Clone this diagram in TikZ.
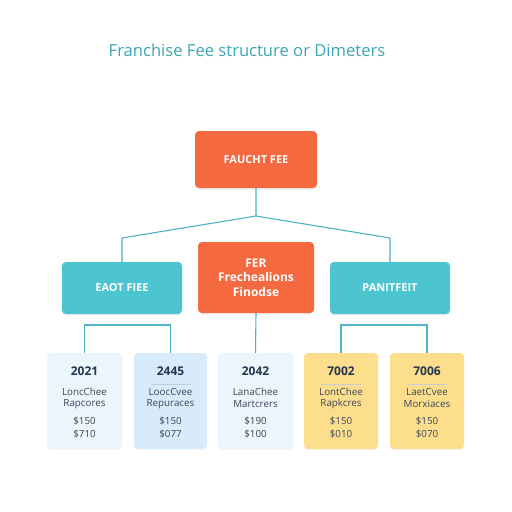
\documentclass[tikz,border=0pt]{standalone}
\usepackage{fontspec}
\setmainfont{Open Sans}
\usetikzlibrary{shadows}
\definecolor{orng}{HTML}{F4693F}
\definecolor{tealbox}{HTML}{4CC5D0}
\definecolor{conn}{HTML}{4BB3C3}
\definecolor{titlec}{HTML}{3AA7B2}
\definecolor{bA}{HTML}{EAF5FC}
\definecolor{bB}{HTML}{D8EBFB}
\definecolor{yel}{HTML}{FDDE8C}
\definecolor{navy}{HTML}{243650}
\definecolor{bodyc}{HTML}{3A4658}
\tikzset{
  bigbox/.style={rounded corners=4pt, inner sep=0pt, text=white, font=\fontsize{11}{14.5}\selectfont\bfseries, align=center,
    drop shadow={shadow xshift=0pt, shadow yshift=-1.5pt, opacity=0.12}},
  orangebox/.style={bigbox, fill=orng},
  tealbx/.style={bigbox, fill=tealbox},
  smallbox/.style={rounded corners=4pt, inner sep=0pt, minimum height=96pt,
    drop shadow={shadow xshift=0pt, shadow yshift=-1pt, opacity=0.06}},
  yeartxt/.style={font=\fontsize{12}{13}\selectfont\bfseries, text=navy},
  bodytxt/.style={font=\fontsize{9.8}{12}\selectfont, text=bodyc},
  conline/.style={draw=conn, line width=1.1pt},
  sep/.style={draw=navy!25, line width=0.5pt}
}
\begin{document}
\begin{tikzpicture}[x=1pt,y=-1pt]
\fill[white] (0,0) rectangle (512,512);
\useasboundingbox (0,0) rectangle (512,512);

\node[text=titlec, font=\fontsize{16.6}{18}\selectfont] (title) at (247,50) {Franchise Fee structure or Dimeters};

\node[orangebox, minimum width=122pt, minimum height=57pt] (top) at (256,159.5) {FAUCHT FEE};
\node[tealbx, minimum width=120pt, minimum height=52pt] (left) at (122,288) {EAOT FIEE};
\node[orangebox, minimum width=116pt, minimum height=71pt, font=\fontsize{12}{14.5}\selectfont\bfseries] (mid) at (256,277.5) {FER\\Frechealions\\Finodse};
\node[tealbx, minimum width=120pt, minimum height=52pt] (right) at (390,288) {PANITFEIT};

\coordinate (j) at (256,216);
\coordinate (jl) at (122,238);
\coordinate (jr) at (390,238);
\coordinate (brk) at (0,325);

\draw[conline] (top.south) -- (j) -- (jl) -- (left.north);
\draw[conline] (j) -- (jr) -- (right.north);

% bottom boxes
\node[smallbox, fill=bA, minimum width=75pt] (b1) at (84.5,401) {};
\node[smallbox, fill=bB, minimum width=73pt] (b2) at (170.5,401) {};
\node[smallbox, fill=bA, minimum width=75pt] (b3) at (255.5,401) {};
\node[smallbox, fill=yel, minimum width=74pt] (b4) at (341,401) {};
\node[smallbox, fill=yel, minimum width=74pt] (b5) at (427,401) {};

\draw[conline] (b1.north) -- (b1.north |- brk) -- (b2.north |- brk) -- (b2.north);
\draw[conline] (b4.north) -- (b4.north |- brk) -- (b5.north |- brk) -- (b5.north);
\draw[conline] (mid.south) -- (b3.north);

% box contents
\foreach \b/\yr/\la/\lb/\pa/\pb/\s in {
  b1/2021/LoncChee/Rapcores/\$150/\$710/0,
  b2/2445/LoocCvee/Repuraces/\$150/\$077/1,
  b3/2042/LanaChee/Martcrers/\$190/\$100/0,
  b4/7002/LontChee/Rapkcres/\$150/\$010/1,
  b5/7006/LaetCvee/Morxiaces/\$150/\$070/1}{
  \node[yeartxt] (\b y) at ([yshift=-18pt]\b.north) {\yr};
  \ifnum\s=1
    \draw[sep] ([xshift=-20pt,yshift=-31pt]\b.north) -- ([xshift=20pt,yshift=-31pt]\b.north);
  \fi
  \node[bodytxt] (\b l1) at ([yshift=-39pt]\b.north) {\la};
  \node[bodytxt] (\b l2) at ([yshift=-51.5pt]\b.north) {\lb};
  \node[bodytxt] (\b p1) at ([yshift=-68pt]\b.north) {\pa};
  \node[bodytxt] (\b p2) at ([yshift=-81pt]\b.north) {\pb};
}
\end{tikzpicture}
\end{document}
